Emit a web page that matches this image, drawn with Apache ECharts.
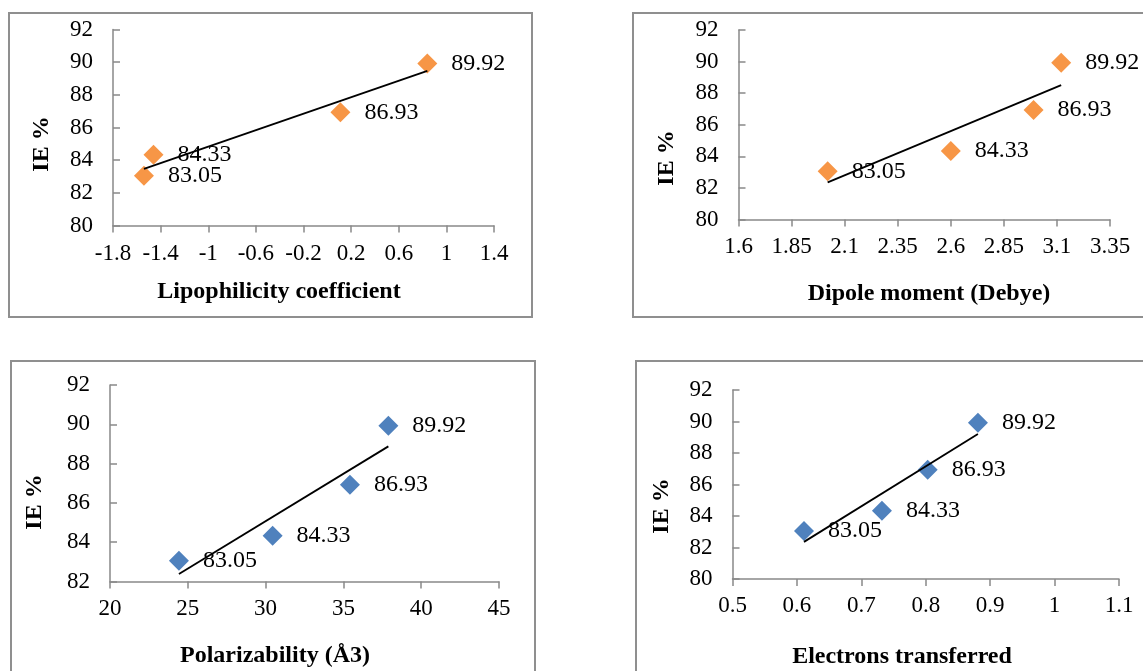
<!DOCTYPE html>
<html>
<head>
<meta charset="utf-8">
<script src="https://cdn.jsdelivr.net/npm/echarts@6/dist/echarts.min.js"></script>
<style>
html,body{margin:0;padding:0;background:#fff;}
#chart{width:1143px;height:671px;}
</style>
</head>
<body>
<div id="chart"></div>
<script>
// ---- data ----
const IE = [83.05, 84.33, 86.93, 89.92];
const lipophilicity = [-1.54, -1.46, 0.11, 0.84];
const dipole = [2.02, 2.60, 2.99, 3.12];
const polarizability = [24.43, 30.45, 35.42, 37.89];
const electrons = [0.611, 0.732, 0.803, 0.881];

const xTicksLipo = [-1.8, -1.4, -1, -0.6, -0.2, 0.2, 0.6, 1, 1.4];
const xTicksDipole = [1.6, 1.85, 2.1, 2.35, 2.6, 2.85, 3.1, 3.35];
const xTicksPolar = [20, 25, 30, 35, 40, 45];
const xTicksElec = [0.5, 0.6, 0.7, 0.8, 0.9, 1, 1.1];
const yTicksIE = [80, 82, 84, 86, 88, 90, 92];
const yTicksIE3 = [82, 84, 86, 88, 90, 92];

const xTitles = ['Lipophilicity coefficient', 'Dipole moment (Debye)', 'Polarizability (Å3)', 'Electrons transferred'];
const yTitle = 'IE %';

// ---- layout ----
const SERIF = "'Liberation Serif','Times New Roman',serif";
const ORANGE = '#F79646', BLUE = '#4F81BD';
const panels = [
  { x: lipophilicity, xt: xTicksLipo, yt: yTicksIE, color: ORANGE,
    grid: { left: 113, top: 29.5, width: 381, height: 196 },
    box: [9, 13, 523, 304], xTitle: [279, 292], yTitle: [42, 144], lm: 17 },
  { x: dipole, xt: xTicksDipole, yt: yTicksIE, color: ORANGE,
    grid: { left: 738.5, top: 30, width: 371.5, height: 189.5 },
    box: [633, 13, 540, 304], xTitle: [929, 294], yTitle: [667, 158], lm: 16 },
  { x: polarizability, xt: xTicksPolar, yt: yTicksIE3, color: BLUE,
    grid: { left: 110, top: 385, width: 389, height: 196.5 },
    box: [11, 361, 524, 340], xTitle: [275, 656], yTitle: [35, 502], lm: 15.5 },
  { x: electrons, xt: xTicksElec, yt: yTicksIE, color: BLUE,
    grid: { left: 732.5, top: 390, width: 386.5, height: 189 },
    box: [636, 361, 540, 340], xTitle: [902, 657], yTitle: [662, 506], lm: 15 }
];

function regression(xs, ys) {
  const n = xs.length;
  const mx = xs.reduce((a, b) => a + b, 0) / n;
  const my = ys.reduce((a, b) => a + b, 0) / n;
  let sxy = 0, sxx = 0;
  for (let i = 0; i < n; i++) { sxy += (xs[i] - mx) * (ys[i] - my); sxx += (xs[i] - mx) ** 2; }
  const b = sxy / sxx, a = my - b * mx;
  const x0 = Math.min(...xs), x1 = Math.max(...xs);
  return [[x0, a + b * x0], [x1, a + b * x1]];
}

const grids = [], xAxes = [], yAxes = [], series = [], graphics = [];
const axisColor = '#898989';
panels.forEach((p, i) => {
  grids.push(Object.assign({ containLabel: false }, p.grid));
  xAxes.push({
    type: 'value', gridIndex: i,
    min: p.xt[0], max: p.xt[p.xt.length - 1],
    axisLine: { show: true, onZero: false, lineStyle: { color: axisColor, width: 1.5 } },
    axisTick: { show: true, inside: false, length: 7, customValues: p.xt, lineStyle: { color: axisColor, width: 1.5 } },
    axisLabel: { show: true, margin: p.lm, customValues: p.xt, color: '#000', fontFamily: SERIF, fontSize: 23 },
    splitLine: { show: false }
  });
  yAxes.push({
    type: 'value', gridIndex: i,
    min: p.yt[0], max: p.yt[p.yt.length - 1], interval: 2,
    axisLine: { show: true, onZero: false, lineStyle: { color: axisColor, width: 1.5 } },
    axisTick: { show: true, inside: true, length: 7, lineStyle: { color: axisColor, width: 1.5 } },
    axisLabel: { show: true, margin: 20, color: '#000', fontFamily: SERIF, fontSize: 23 },
    splitLine: { show: false }
  });
  series.push({
    type: 'scatter', xAxisIndex: i, yAxisIndex: i,
    data: p.x.map((v, k) => [v, IE[k]]),
    symbol: 'diamond', symbolSize: 20,
    itemStyle: { color: p.color, opacity: 1 },
    label: { show: true, position: 'right', distance: 14, color: '#000', fontFamily: SERIF, fontSize: 24,
      formatter: (d) => d.value[1].toFixed(2) },
    emphasis: { disabled: true }, z: 2
  });
  series.push({
    type: 'line', xAxisIndex: i, yAxisIndex: i,
    data: regression(p.x, IE), showSymbol: false, symbol: 'none',
    lineStyle: { color: '#000', width: 1.8 }, z: 3, silent: true
  });
  graphics.push({
    type: 'rect', shape: { x: p.box[0], y: p.box[1], width: p.box[2], height: p.box[3] },
    style: { fill: null, stroke: '#8f8f8f', lineWidth: 2 }, z: -1
  });
  graphics.push({
    type: 'text', x: p.xTitle[0], y: p.xTitle[1],
    style: { text: xTitles[i], font: "bold 24px 'Liberation Serif','Times New Roman',serif", fill: '#000',
      textAlign: 'center', textVerticalAlign: 'middle' }
  });
  graphics.push({
    type: 'text', x: p.yTitle[0], y: p.yTitle[1], rotation: Math.PI / 2,
    style: { text: yTitle, font: "bold 24px 'Liberation Serif','Times New Roman',serif", fill: '#000',
      textAlign: 'center', textVerticalAlign: 'middle' }
  });
});

const chart = echarts.init(document.getElementById('chart'), null, { renderer: 'canvas' });
chart.setOption({
  backgroundColor: '#fff',
  animation: false,
  grid: grids, xAxis: xAxes, yAxis: yAxes, series: series,
  graphic: graphics
});
</script>
</body>
</html>
